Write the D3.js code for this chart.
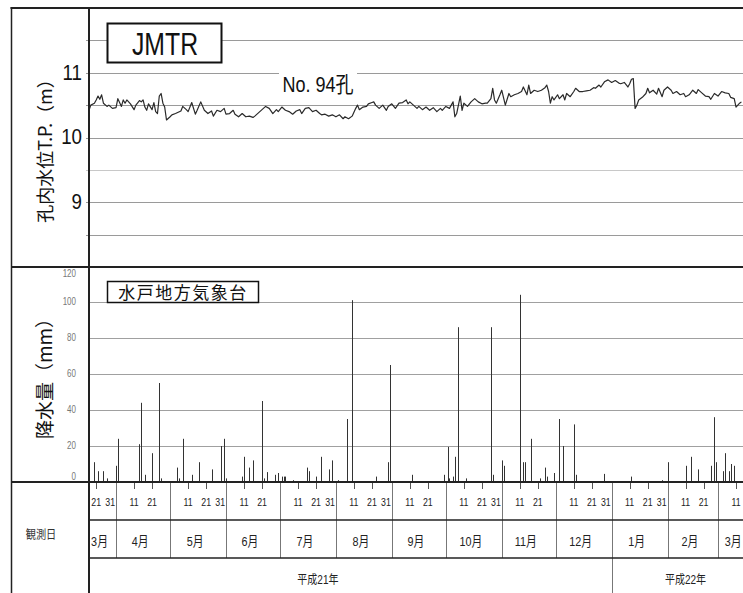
<!DOCTYPE html>
<html>
<head>
<meta charset="utf-8">
<script src="https://cdn.jsdelivr.net/npm/d3@7/dist/d3.min.js"></script>
<style>
  html, body { margin: 0; padding: 0; background: #fff; }
  svg { display: block; }
</style>
</head>
<body>
<svg id="chart" width="743" height="593"></svg>
<script>
// 孔内水位 (No.94孔) と 水戸地方気象台の日降水量

// --- data ---
const startDate = "2009-03-17";
const endDate = "2010-03-21";

// [days since 2009-03-17, 孔内水位 T.P. (m)]
const levelSeries = [
  [0,10.42],[1,10.50],[3,10.53],[4,10.58],[5,10.64],[6,10.59],[7,10.66],[8,10.53],[10,10.48],[11,10.50],
  [13,10.45],[15,10.46],[16,10.60],[18,10.48],[19,10.58],[20,10.53],[21,10.58],[23,10.52],[25,10.43],[26,10.50],
  [28,10.57],[29,10.55],[30,10.58],[31,10.47],[32,10.42],[33,10.52],[35,10.43],[36,10.54],[37,10.40],[38,10.37],
  [39,10.64],[40,10.68],[41,10.53],[42,10.47],[43,10.27],[45,10.32],[46,10.35],[48,10.37],[51,10.41],[52,10.48],
  [54,10.43],[55,10.40],[57,10.54],[59,10.36],[60,10.42],[62,10.55],[64,10.42],[66,10.37],[68,10.41],[69,10.33],
  [71,10.42],[73,10.40],[75,10.45],[76,10.36],[78,10.37],[80,10.42],[81,10.36],[83,10.32],[85,10.37],[87,10.32],
  [89,10.33],[91,10.31],[92,10.33],[94,10.38],[96,10.43],[98,10.48],[100,10.45],[102,10.37],[104,10.43],[105,10.40],
  [107,10.47],[109,10.42],[111,10.40],[113,10.36],[115,10.41],[117,10.43],[118,10.37],[120,10.45],[122,10.46],[124,10.40],
  [126,10.42],[128,10.37],[129,10.35],[131,10.36],[133,10.33],[135,10.35],[137,10.32],[139,10.35],[141,10.29],[142,10.32],
  [144,10.29],[146,10.33],[148,10.45],[149,10.50],[150,10.43],[152,10.47],[154,10.48],[155,10.52],[157,10.54],[158,10.55],
  [159,10.50],[161,10.45],[163,10.50],[165,10.42],[166,10.48],[168,10.52],[170,10.45],[172,10.53],[174,10.54],[176,10.58],
  [177,10.52],[178,10.55],[180,10.50],[182,10.45],[183,10.48],[185,10.43],[187,10.47],[189,10.42],[191,10.46],[193,10.40],
  [195,10.45],[196,10.42],[198,10.48],[200,10.45],[202,10.55],[203,10.32],[204,10.37],[206,10.64],[207,10.42],[208,10.53],
  [210,10.48],[212,10.55],[214,10.60],[216,10.55],[218,10.52],[220,10.53],[221,10.53],[223,10.60],[224,10.76],[225,10.58],
  [226,10.53],[228,10.66],[229,10.73],[231,10.50],[233,10.68],[234,10.63],[236,10.66],[238,10.68],[240,10.71],[241,10.78],
  [243,10.66],[244,10.81],[245,10.68],[247,10.73],[249,10.71],[251,10.73],[253,10.77],[254,10.81],[255,10.71],[256,10.53],
  [257,10.63],[258,10.58],[260,10.66],[261,10.60],[263,10.66],[264,10.58],[265,10.68],[267,10.63],[269,10.71],[270,10.76],
  [272,10.71],[274,10.71],[276,10.72],[278,10.73],[280,10.77],[281,10.76],[283,10.81],[284,10.78],[286,10.86],[288,10.89],
  [290,10.85],[292,10.88],[294,10.84],[295,10.83],[297,10.85],[299,10.78],[300,10.83],[301,10.90],[302,10.91],[303,10.45],
  [304,10.50],[305,10.58],[307,10.62],[309,10.68],[310,10.76],[311,10.69],[313,10.73],[315,10.67],[316,10.76],[318,10.63],
  [319,10.73],[321,10.78],[323,10.73],[324,10.68],[326,10.71],[328,10.66],[330,10.68],[331,10.63],[333,10.66],[335,10.73],
  [337,10.68],[338,10.74],[340,10.69],[342,10.64],[344,10.63],[345,10.59],[347,10.68],[349,10.64],[351,10.71],[353,10.69],
  [355,10.68],[356,10.62],[358,10.60],[359,10.47],[361,10.53],[362,10.55]
];

// [日付, 降水量 (mm)]
const rainSeries = [
  ["2009-03-20",11],["2009-03-22",6],["2009-03-25",6],["2009-03-27",2],["2009-04-01",9],["2009-04-02",24],
  ["2009-04-14",21],["2009-04-15",44],["2009-04-17",4],["2009-04-21",16],["2009-04-25",55],["2009-04-26",2],
  ["2009-05-05",8],["2009-05-06",2],["2009-05-08",24],["2009-05-13",4],["2009-05-17",11],["2009-05-24",7],
  ["2009-05-29",20],["2009-05-31",24],["2009-06-01",2],["2009-06-10",3],["2009-06-11",14],["2009-06-14",8],
  ["2009-06-16",12],["2009-06-21",45],["2009-06-22",2],["2009-06-24",5.5],["2009-06-28",4],["2009-06-30",5],
  ["2009-07-02",3],["2009-07-03",3],["2009-07-04",3],["2009-07-08",1],["2009-07-16",8],["2009-07-17",6],
  ["2009-07-21",3],["2009-07-24",14],["2009-07-28",7],["2009-07-30",12],["2009-08-02",1],["2009-08-07",35],
  ["2009-08-10",101],["2009-08-23",3],["2009-08-30",11],["2009-08-31",65],["2009-09-12",4],["2009-09-30",4],
  ["2009-10-02",19.5],["2009-10-03",2],["2009-10-05",3],["2009-10-06",14],["2009-10-08",86],["2009-10-12",2],
  ["2009-10-26",86],["2009-10-27",4],["2009-11-01",12],["2009-11-02",9],["2009-11-11",104],["2009-11-13",11],
  ["2009-11-14",11],["2009-11-17",24],["2009-11-22",2],["2009-11-25",8],["2009-11-26",3],["2009-11-30",5],
  ["2009-12-03",35],["2009-12-05",20],["2009-12-11",32],["2009-12-12",4],["2009-12-28",4.5],["2010-01-12",3],
  ["2010-01-29",1],["2010-02-01",11],["2010-02-11",9],["2010-02-14",14],["2010-02-18",7],["2010-02-25",9],
  ["2010-02-27",36],["2010-02-28",11],["2010-03-04",6],["2010-03-05",16],["2010-03-07",6],["2010-03-08",10],
  ["2010-03-10",9]
];

const levelTicks = [9, 10, 11];
const levelGrid = [8.5, 9, 9.5, 10, 10.5, 11, 11.5];
const rainTicks = [0, 20, 40, 60, 80, 100, 120];
const monthLabels = ["3月","4月","5月","6月","7月","8月","9月","10月","11月","12月","1月","2月","3月"];
const dayLabelDays = [11, 21, 31];
const yearLabels = ["平成21年", "平成22年"];
const yearLabelDates = ["2009-07-22", "2010-02-11"];

// --- layout ---
const W = 743, H = 593;
const frameL = 11.5, plotL = 89;
const yTop = 8, yDiv = 267, yAxis = 482, yRow1 = 520, yRow2 = 558;
const LATIN = "'Liberation Sans','Noto Sans CJK JP',sans-serif";
const CJK = "'Noto Sans CJK JP',sans-serif";

const parse = d3.timeParse("%Y-%m-%d");
const t0 = parse(startDate), t1 = parse(endDate);

const svg = d3.select("#chart");

// 横に詰めた文字 (元図は縦長の字体)
function squeeze(sel, fx, fy, sx) {
  return sel.attr("transform", (d, i) => `translate(${fx(d, i)},${fy(d, i)}) scale(${sx},1)`);
}

// x: 2009-03-17 -> 89px, 2010-03-01 -> 718px
const x = d3.scaleTime().domain([t0, parse("2010-03-01")]).range([plotL, 718]);
const plotR = x(t1);
const yLevel = d3.scaleLinear().domain([8, 12]).range([yDiv, yTop]);
const yRain = d3.scaleLinear().domain([0, 120]).range([yAxis, yDiv - 1]);

svg.append("rect").attr("width", W).attr("height", H).attr("fill", "#fff");

svg.append("defs").append("clipPath").attr("id", "plotClip")
  .append("rect").attr("x", plotL).attr("y", yTop).attr("width", plotR - plotL).attr("height", yAxis - yTop);

// --- water level panel ---
svg.append("g").selectAll("line").data(levelGrid).join("line")
  .attr("x1", plotL - 3).attr("x2", plotR)
  .attr("y1", d => Math.round(yLevel(d)) + 0.5).attr("y2", d => Math.round(yLevel(d)) + 0.5)
  .attr("stroke", d => d === 9.5 ? "#c8c8c8" : "#9a9a9a").attr("stroke-width", 1);

squeeze(svg.append("g").selectAll("text").data(levelTicks).join("text"),
    () => 82, d => yLevel(d) + 1, 0.85)
  .attr("text-anchor", "end").attr("dominant-baseline", "middle")
  .attr("font-family", LATIN).attr("font-size", 22).attr("fill", "#111")
  .text(d => d);

svg.append("text")
  .attr("transform", `translate(52,${(yTop + yDiv) / 2 + 9}) rotate(-90)`)
  .attr("text-anchor", "middle")
  .attr("font-family", CJK).attr("font-size", 18).attr("fill", "#111")
  .text("孔内水位T.P.（m）");

const levelLine = d3.line()
  .x(d => x(d3.timeDay.offset(t0, d[0])))
  .y(d => yLevel(d[1]));

svg.append("path").datum(levelSeries)
  .attr("clip-path", "url(#plotClip)")
  .attr("d", levelLine)
  .attr("fill", "none").attr("stroke", "#2a2a2a").attr("stroke-width", 1.2)
  .attr("stroke-linejoin", "round");

// JMTR box
svg.append("rect").attr("x", 107.5).attr("y", 23.5).attr("width", 114).attr("height", 39)
  .attr("fill", "#fff").attr("stroke", "#111").attr("stroke-width", 2);
squeeze(svg.append("text"), () => 165, () => 55, 0.8)
  .attr("text-anchor", "middle").attr("font-family", LATIN).attr("font-size", 31).attr("fill", "#111")
  .text("JMTR");

// No.94孔 label
svg.append("rect").attr("x", 279).attr("y", 69).attr("width", 78).attr("height", 26).attr("fill", "#fff");
squeeze(svg.append("text"), () => 318, () => 92, 0.82)
  .attr("text-anchor", "middle").attr("font-family", LATIN).attr("font-size", 22).attr("fill", "#111")
  .text("No. 94孔");

// --- rain panel ---
svg.append("g").selectAll("line").data(rainTicks.filter(d => d > 0 && d < 120)).join("line")
  .attr("x1", plotL).attr("x2", plotR)
  .attr("y1", d => Math.round(yRain(d)) + 0.5).attr("y2", d => Math.round(yRain(d)) + 0.5)
  .attr("stroke", "#a0a0a0").attr("stroke-width", 1.2);

squeeze(svg.append("g").selectAll("text").data(rainTicks).join("text"),
    () => 76, d => yRain(d) + (d === 0 ? -5 : d === 120 ? 8 : 0), 0.8)
  .attr("text-anchor", "end").attr("dominant-baseline", "middle")
  .attr("font-family", LATIN).attr("font-size", 10).attr("fill", "#777")
  .text(d => d);

svg.append("text")
  .attr("transform", `translate(52,374) rotate(-90)`)
  .attr("text-anchor", "middle")
  .attr("font-family", CJK).attr("font-size", 19).attr("fill", "#111")
  .text("降水量（mm）");

svg.append("g").attr("clip-path", "url(#plotClip)")
  .selectAll("line").data(rainSeries).join("line")
  .attr("x1", d => Math.round(x(parse(d[0]))) + 0.5).attr("x2", d => Math.round(x(parse(d[0]))) + 0.5)
  .attr("y1", yRain(0)).attr("y2", d => yRain(d[1]))
  .attr("stroke", "#333").attr("stroke-width", 1);

svg.append("rect").attr("x", 107.5).attr("y", 281.5).attr("width", 151).attr("height", 21)
  .attr("fill", "#fff").attr("stroke", "#111").attr("stroke-width", 1.5);
svg.append("text").attr("x", 183).attr("y", 299)
  .attr("text-anchor", "middle").attr("font-family", CJK).attr("font-size", 17)
  .attr("letter-spacing", 1.5).attr("fill", "#111")
  .text("水戸地方気象台");

// --- date table ---
const months = d3.timeMonth.range(d3.timeMonth.floor(t0), t1);
const monthStarts = months.filter(m => m > t0);

// ticks on days 1, 11, 21
const tickDays = d3.timeDay.range(t0, t1).filter(d => [1, 11, 21].includes(d.getDate()));
svg.append("g").selectAll("line").data(tickDays).join("line")
  .attr("x1", d => Math.round(x(d)) + 0.5).attr("x2", d => Math.round(x(d)) + 0.5)
  .attr("y1", yAxis).attr("y2", yAxis + 7)
  .attr("stroke", "#555").attr("stroke-width", 1);

// month boundaries
svg.append("g").selectAll("line").data(monthStarts).join("line")
  .attr("x1", d => Math.round(x(d)) + 0.5).attr("x2", d => Math.round(x(d)) + 0.5)
  .attr("y1", yAxis).attr("y2", d => d.getMonth() === 0 ? H : yRow2)
  .attr("stroke", "#777").attr("stroke-width", 1);

// day labels
const dayLabels = d3.timeDay.range(t0, t1).filter(d => dayLabelDays.includes(d.getDate()));
squeeze(svg.append("g").selectAll("text").data(dayLabels).join("text"),
    d => x(d) - (d.getDate() === 31 ? 4 : 0), () => 506, 0.8)
  .attr("text-anchor", "middle")
  .attr("font-family", LATIN).attr("font-size", 11).attr("fill", "#222")
  .text(d => d.getDate());

// month labels
squeeze(svg.append("g").selectAll("text").data(months).join("text"),
    d => {
      const a = Math.max(x(d), plotL);
      const b = Math.min(x(d3.timeMonth.offset(d, 1)), x(t1));
      return (a + b) / 2 - 3;
    }, () => 546, 0.8)
  .attr("text-anchor", "middle")
  .attr("font-family", LATIN).attr("font-size", 13.5).attr("fill", "#222")
  .text((d, i) => monthLabels[i]);

// year labels
squeeze(svg.append("g").selectAll("text").data(yearLabels).join("text"),
    (d, i) => x(parse(yearLabelDates[i])), () => 584, 0.8)
  .attr("text-anchor", "middle")
  .attr("font-family", LATIN).attr("font-size", 12.5).attr("fill", "#222")
  .text(d => d);

squeeze(svg.append("text"), () => 41, () => 539, 0.85)
  .attr("text-anchor", "middle").attr("font-family", CJK).attr("font-size", 12).attr("fill", "#333")
  .text("観測日");

// --- frame ---
const frame = svg.append("g").attr("stroke", "#222").attr("fill", "none");
frame.append("line").attr("x1", frameL - 1).attr("x2", plotR).attr("y1", yTop).attr("y2", yTop).attr("stroke-width", 2);
frame.append("line").attr("x1", frameL).attr("x2", plotR).attr("y1", yDiv).attr("y2", yDiv).attr("stroke-width", 2);
frame.append("line").attr("x1", frameL).attr("x2", plotR).attr("y1", yAxis).attr("y2", yAxis).attr("stroke-width", 2);
frame.append("line").attr("x1", plotL).attr("x2", plotR).attr("y1", yRow1).attr("y2", yRow1).attr("stroke-width", 1.5);
frame.append("line").attr("x1", plotL).attr("x2", plotR).attr("y1", yRow2).attr("y2", yRow2).attr("stroke-width", 1.5);
frame.append("line").attr("x1", frameL).attr("x2", frameL).attr("y1", yTop - 1).attr("y2", H).attr("stroke-width", 1.5);
frame.append("line").attr("x1", plotL).attr("x2", plotL).attr("y1", yTop - 1).attr("y2", H).attr("stroke-width", 2);
</script>
</body>
</html>
